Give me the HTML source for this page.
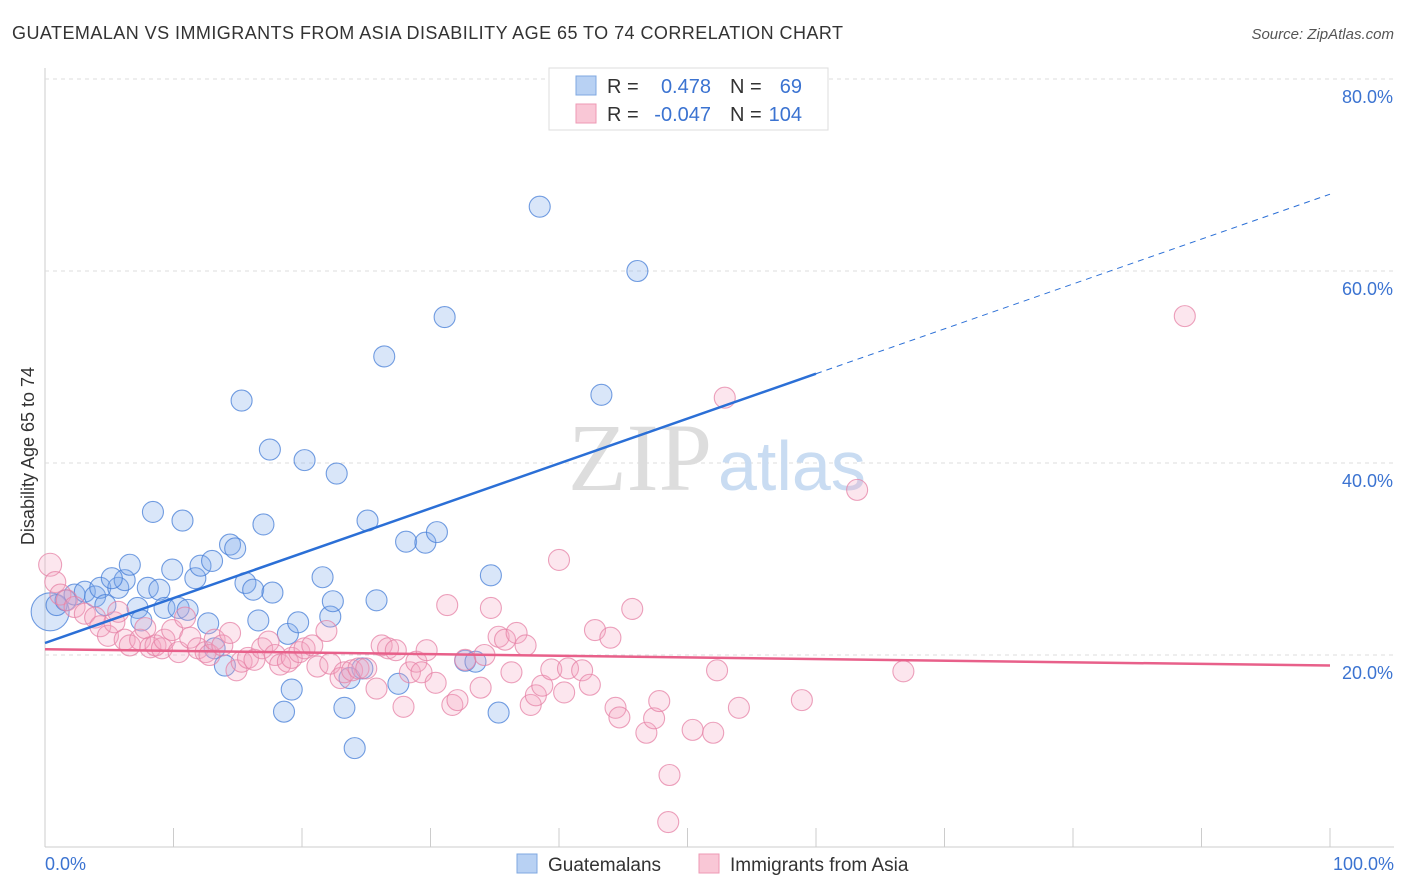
<!DOCTYPE html>
<html><head><meta charset="utf-8"><style>
body{margin:0;background:#fff;font-family:"Liberation Sans",sans-serif}
svg{display:block}
</style></head><body>
<svg id="chart" width="1406" height="892">
<text x="12" y="39" font-size="18" fill="#333" textLength="831">GUATEMALAN VS IMMIGRANTS FROM ASIA DISABILITY AGE 65 TO 74 CORRELATION CHART</text>
<text x="1394" y="39" font-size="15" fill="#555" text-anchor="end" font-style="italic">Source: ZipAtlas.com</text>
<g id="grid"></g>
<text x="712" y="490" font-size="96" fill="#ddd" text-anchor="end" font-family="Liberation Serif">ZIP</text>
<text x="718" y="490" font-size="70" fill="#c9dcf2">atlas</text>
<text transform="translate(34,456) rotate(-90)" font-size="18" fill="#333" text-anchor="middle">Disability Age 65 to 74</text>
<g id="pts"></g>
<g id="lines"></g>
<g>
<rect x="549" y="68" width="279" height="62" fill="#fff" stroke="#ddd"/>
<rect x="576" y="76" width="20" height="19" fill="#b8d1f3" stroke="#7fa8e0"/>
<rect x="576" y="104" width="20" height="19" fill="#f9c7d6" stroke="#ee9ab4"/>
<g font-size="20" fill="#333">
<text x="607" y="93">R =</text><text x="607" y="121">R =</text>
<text x="730" y="93">N =</text><text x="730" y="121">N =</text>
</g>
<g font-size="20" fill="#3b73d1">
<text x="711" y="93" text-anchor="end">0.478</text><text x="711" y="121" text-anchor="end">-0.047</text>
<text x="802" y="93" text-anchor="end">69</text><text x="802" y="121" text-anchor="end">104</text>
</g>
</g>
<g>
<rect x="517" y="854" width="20" height="19" fill="#b8d1f3" stroke="#7fa8e0"/>
<text x="548" y="871" font-size="19" fill="#333">Guatemalans</text>
<rect x="699" y="854" width="20" height="19" fill="#f9c7d6" stroke="#ee9ab4"/>
<text x="730" y="871" font-size="19" fill="#333">Immigrants from Asia</text>
</g>
<text x="45" y="870" font-size="18" fill="#3b73d1">0.0%</text>
<text x="1394" y="870" font-size="18" fill="#3b73d1" text-anchor="end">100.0%</text>
</svg>
<script>
const yTicks=[20,40,60,80];
const blueX=[0.4,0.9,1.6,2.3,3.1,3.9,4.3,4.7,5.7,6.2,5.2,6.6,7.2,7.5,8.0,8.4,8.9,9.3,9.9,10.4,10.7,11.1,11.7,12.1,12.7,13.0,13.2,14.0,14.4,14.8,15.3,15.6,16.2,16.6,17.0,17.5,17.7,18.6,18.9,19.2,19.7,20.2,21.6,22.2,22.4,22.7,23.3,23.7,24.1,24.7,25.1,25.8,26.4,27.5,28.1,29.6,30.5,31.1,32.7,33.5,34.7,35.3,38.5,43.3,46.1,60.0];
const blueY=[24.5,25.2,25.7,26.3,26.6,26.1,27.0,25.2,27.0,27.8,28.0,29.4,24.9,23.6,27.0,34.9,26.8,24.9,28.9,24.9,34.0,24.7,28.0,29.3,23.3,29.8,20.7,18.9,31.5,31.1,46.5,27.5,26.8,23.6,33.6,41.4,26.5,14.1,22.2,16.4,23.4,40.3,28.1,24.0,25.6,38.9,14.5,17.6,10.3,18.6,34.0,25.7,51.1,17.0,31.8,31.7,32.8,55.2,19.4,19.3,28.3,14.0,66.7,47.1,60.0,79.2];
const pinkX=[0.4,0.8,1.2,1.7,2.3,3.1,3.9,4.3,4.9,5.4,5.7,6.2,6.6,7.4,7.8,8.2,8.6,9.1,9.3,9.9,10.4,10.9,11.3,11.9,12.5,12.8,13.2,13.8,14.4,14.9,15.3,15.8,16.3,16.9,17.4,17.9,18.3,18.9,19.2,19.8,20.2,20.8,21.2,21.9,22.2,23.0,23.3,23.9,24.4,25.0,25.8,26.2,26.7,27.3,27.9,28.4,28.9,29.3,29.7,30.4,31.3,31.7,32.1,32.7,33.9,34.2,34.7,35.3,35.8,36.3,36.7,37.4,37.8,38.2,38.7,39.4,40.0,40.4,40.7,41.8,42.4,42.8,44.0,44.4,44.7,45.7,46.8,47.4,47.8,48.6,48.5,50.4,52.0,52.3,52.9,54.0,58.9,63.2,66.8,88.7];
const pinkY=[29.4,27.6,26.3,25.7,25.0,24.3,23.9,23.0,22.0,23.4,24.5,21.6,21.0,21.6,22.8,20.8,21.0,20.7,21.6,22.6,20.3,23.9,21.8,20.7,20.3,20.0,21.6,21.0,22.3,18.4,19.3,19.7,19.5,20.7,21.4,20.0,19.0,19.3,19.7,20.3,20.7,21.0,18.8,22.5,19.1,17.6,18.2,18.4,18.6,18.6,16.5,21.0,20.7,20.5,14.6,18.2,19.3,18.2,20.5,17.1,25.2,14.8,15.3,19.5,16.6,20.0,24.9,21.9,21.6,18.2,22.3,21.0,14.8,15.8,16.8,18.5,29.9,16.1,18.6,18.4,16.9,22.6,21.8,14.5,13.5,24.8,11.9,13.4,15.2,7.5,2.6,12.2,11.9,18.4,46.8,14.5,15.3,37.2,18.3,55.3];
const blueTrend=[21.25,68.0];
const pinkTrend=[20.6,18.9];
const NS='http://www.w3.org/2000/svg';
const sx=v=>45+v*12.85, sy=v=>847-v*9.6;
function mk(t,a,p){const e=document.createElementNS(NS,t);for(const k in a)e.setAttribute(k,a[k]);p.appendChild(e);return e;}
const grid=document.getElementById('grid');
mk('line',{x1:45,y1:68,x2:45,y2:847,stroke:'#ccc'},grid);
mk('line',{x1:45,y1:847,x2:1394,y2:847,stroke:'#ccc'},grid);
for(let i=0;i<=10;i++){const t=mk('line',{x1:sx(i*10),x2:sx(i*10),y1:828,y2:847,stroke:'#ccc'},grid);

}
yTicks.forEach(v=>{const l=mk('line',{x1:45,x2:1394,y1:sy(v),y2:sy(v),stroke:'#ddd','stroke-dasharray':'4,4'},grid);


const t=mk('text',{x:1393,y:sy(v)+24,'font-size':18,fill:'#3b73d1','text-anchor':'end'},grid);t.textContent=v.toFixed(1)+'%';

});
const pts=document.getElementById('pts');
blueX.forEach((x,i)=>{const c=mk('circle',{cx:sx(x),cy:sy(blueY[i]),r:i==0?19:10.5,fill:'rgba(130,172,235,0.3)',stroke:'rgba(70,125,215,0.75)','stroke-width':1.1},pts);

});
pinkX.forEach((x,i)=>{const c=mk('circle',{cx:sx(x),cy:sy(pinkY[i]),r:i==0?11.5:10.5,fill:'rgba(245,165,195,0.28)',stroke:'rgba(230,130,165,0.75)','stroke-width':1.1},pts);

});
const L=document.getElementById('lines');
const by=x=>blueTrend[0]+(blueTrend[1]-blueTrend[0])*x/100;
let b1=mk('line',{x1:sx(0),y1:sy(by(0)),x2:sx(60),y2:sy(by(60)),stroke:'#2b6fd6','stroke-width':2.5},L);


let b2=mk('line',{x1:sx(60),y1:sy(by(60)),x2:sx(100),y2:sy(by(100)),stroke:'#2b6fd6','stroke-width':1,'stroke-dasharray':'6,5'},L);


let p1=mk('line',{x1:sx(0),y1:sy(pinkTrend[0]),x2:sx(100),y2:sy(pinkTrend[1]),stroke:'#e8608a','stroke-width':2.5},L);


</script>
</body></html>
